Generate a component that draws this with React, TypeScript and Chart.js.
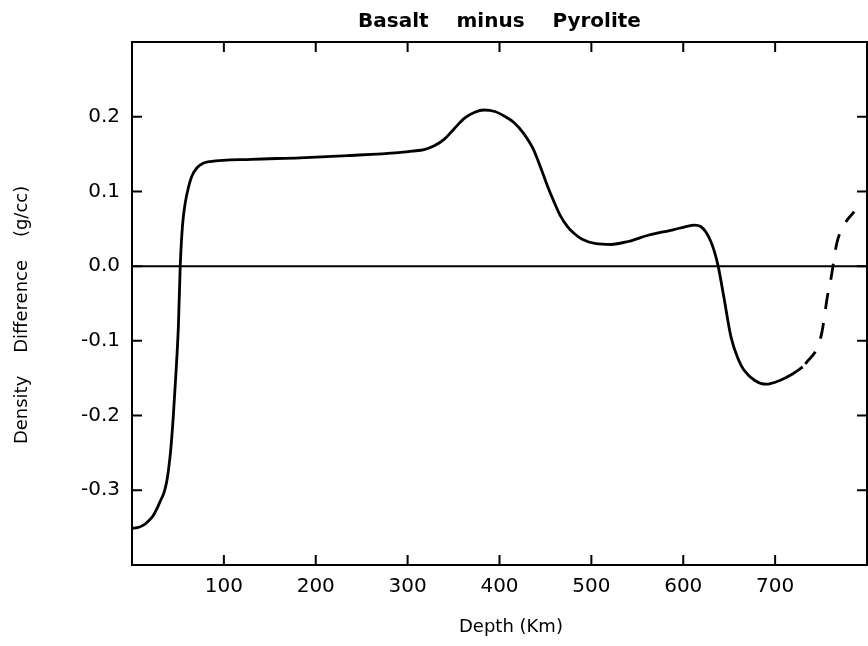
import React, { useEffect, useRef } from "react";
import { Chart, registerables } from "chart.js";

Chart.register(...registerables);

const depthSolid = [0, 6, 12, 18, 23, 27, 31, 34, 36, 38, 40, 42, 45, 48, 50.5, 52.5, 55, 58, 61, 65, 71, 78, 85, 130, 183, 235, 290, 305, 318, 329, 340, 350, 362, 373, 383, 395, 405, 416, 426, 437, 446, 452, 459, 466, 474, 481, 490, 505, 521, 540, 561, 590, 603, 612, 619, 625, 630, 634, 638, 644, 652, 660, 666, 678, 690, 705, 718, 730];
const diffSolid = [-0.351, -0.35, -0.347, -0.341, -0.334, -0.325, -0.314, -0.306, -0.298, -0.287, -0.27, -0.248, -0.2, -0.14, -0.08, 0.0, 0.055, 0.085, 0.103, 0.12, 0.132, 0.138, 0.14, 0.143, 0.145, 0.148, 0.152, 0.154, 0.156, 0.161, 0.17, 0.183, 0.198, 0.206, 0.209, 0.207, 0.201, 0.192, 0.178, 0.156, 0.128, 0.108, 0.087, 0.068, 0.053, 0.044, 0.036, 0.03, 0.029, 0.033, 0.041, 0.049, 0.053, 0.055, 0.053, 0.045, 0.033, 0.019, 0.0, -0.04, -0.095, -0.125, -0.139, -0.153, -0.158, -0.153, -0.145, -0.135];

const depthDash = [730, 734, 746, 751, 757, 761, 767, 774, 786];
const diffDash = [-0.135, -0.129, -0.109, -0.088, -0.04, -0.015, 0.03, 0.053, 0.073];

const zeroDepth = [0, 800];
const zeroDiff = [0, 0];

const xTicks = [100, 200, 300, 400, 500, 600, 700];
const yTicks = [-0.3, -0.2, -0.1, 0.0, 0.1, 0.2];

const titleText = "Basalt    minus    Pyrolite";
const xTitle = "    Depth (Km)";
const yTitle = "Density    Difference    (g/cc)    ";

const FONT = "'DejaVu Sans', sans-serif";

const frame = {
  id: "frame",
  afterDatasetsDraw(chart: any) {
    const { ctx, chartArea } = chart;
    const { left, right, top, bottom } = chartArea;
    const xs = chart.scales.x;
    const ys = chart.scales.y;
    const len = 10;
    ctx.save();
    ctx.strokeStyle = "#000";
    ctx.lineWidth = 2;
    ctx.strokeRect(left, top, right - left, bottom - top);
    ctx.beginPath();
    xs.ticks.forEach((t: any) => {
      const px = xs.getPixelForValue(t.value);
      ctx.moveTo(px, bottom);
      ctx.lineTo(px, bottom - len);
      ctx.moveTo(px, top);
      ctx.lineTo(px, top + len);
    });
    ys.ticks.forEach((t: any) => {
      const py = ys.getPixelForValue(t.value);
      ctx.moveTo(left, py);
      ctx.lineTo(left + len, py);
      ctx.moveTo(right, py);
      ctx.lineTo(right - len, py);
    });
    ctx.stroke();
    ctx.restore();
  },
};

export default function App() {
  const ref = useRef<HTMLCanvasElement | null>(null);

  useEffect(() => {
    if (!ref.current) return;
    const solid = depthSolid.map((d, i) => ({ x: d, y: diffSolid[i] }));
    const dashed = depthDash.map((d, i) => ({ x: d, y: diffDash[i] }));
    const zero = zeroDepth.map((d, i) => ({ x: d, y: zeroDiff[i] }));
    const chart = new Chart(ref.current, {
      type: "line",
      data: {
        datasets: [
          {
            data: zero,
            borderColor: "#000",
            borderWidth: 2,
            pointRadius: 0,
            tension: 0,
          },
          {
            data: solid,
            borderColor: "#000",
            borderWidth: 2.8,
            pointRadius: 0,
            cubicInterpolationMode: "monotone",
          },
          {
            data: dashed,
            borderColor: "#000",
            borderWidth: 2.8,
            pointRadius: 0,
            borderDash: [16, 14],
            borderDashOffset: -4,
            cubicInterpolationMode: "monotone",
          },
        ],
      },
      options: {
        animation: false,
        responsive: false,
        maintainAspectRatio: false,
        layout: { padding: { left: 0, right: 1, top: 0, bottom: 0 } },
        plugins: {
          legend: { display: false },
          tooltip: { enabled: false },
          title: {
            display: true,
            text: titleText,
            fullSize: false,
            color: "#000",
            font: { family: FONT, size: 20, weight: "bold", lineHeight: 1.2 },
            padding: { top: 10, bottom: 8 },
          },
        },
        scales: {
          x: {
            type: "linear",
            min: 0,
            max: 800,
            grid: { display: false, drawTicks: false },
            border: { display: false },
            afterBuildTicks: (scale: any) => {
              scale.ticks = xTicks.map((v) => ({ value: v }));
            },
            afterFit: (scale: any) => {
              scale.height = 81;
            },
            ticks: {
              color: "#000",
              padding: 10,
              maxRotation: 0,
              font: { family: FONT, size: 20 },
              callback: (v: any) => String(v),
            },
            title: {
              display: true,
              text: xTitle,
              color: "#000",
              font: { family: FONT, size: 18, lineHeight: 1.2 },
              padding: { top: 0, bottom: 8 },
            },
          },
          y: {
            type: "linear",
            min: -0.4,
            max: 0.3,
            grid: { display: false, drawTicks: false },
            border: { display: false },
            afterBuildTicks: (scale: any) => {
              scale.ticks = yTicks.map((v) => ({ value: v }));
            },
            afterFit: (scale: any) => {
              scale.width = 132;
            },
            ticks: {
              color: "#000",
              padding: 12,
              font: { family: FONT, size: 20 },
              callback: (v: any) => Number(v).toFixed(1),
            },
            title: {
              display: true,
              text: yTitle,
              color: "#000",
              font: { family: FONT, size: 18, lineHeight: 1.2 },
              padding: { top: 12, bottom: 0 },
            },
          },
        },
      },
      plugins: [frame],
    });
    return () => chart.destroy();
  }, []);

  return (
    <div style={{ position: "fixed", left: 0, top: 0, width: 868, height: 646, background: "#fff" }}>
      <canvas ref={ref} width={868} height={646} style={{ display: "block", width: 868, height: 646 }} />
    </div>
  );
}
